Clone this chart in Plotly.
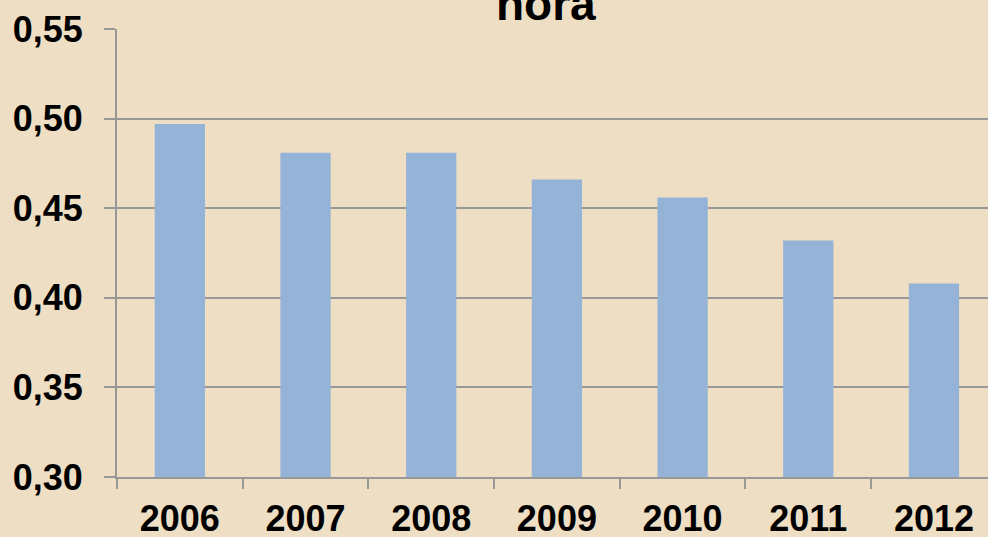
import plotly.graph_objects as go

years = ["2006", "2007", "2008", "2009", "2010", "2011", "2012"]
values = [0.497, 0.481, 0.481, 0.466, 0.456, 0.432, 0.408]
y_ticks = [0.30, 0.35, 0.40, 0.45, 0.50, 0.55]
y_tick_labels = ["0,30", "0,35", "0,40", "0,45", "0,50", "0,55"]
title_text = "hora"

bg = "#EEDEC4"
grid = "#989898"
font_family = "Liberation Sans, Arial, sans-serif"

fig = go.Figure()
fig.add_trace(go.Bar(x=years, y=values, marker=dict(color="#95B3D7", line=dict(width=0)),
                     width=0.4))

fig.update_layout(
    width=988, height=537,
    paper_bgcolor=bg, plot_bgcolor=bg,
    margin=dict(l=117, r=0, t=29, b=60, autoexpand=False),
    showlegend=False,
    font=dict(family=font_family, color="#000000"),
    annotations=[dict(text="<b>" + title_text + "</b>", x=0.493, xref="paper",
                      y=0.993, yref="paper", xanchor="center", yanchor="bottom",
                      showarrow=False, font=dict(size=46, family=font_family))],
)
fig.update_xaxes(
    type="category", range=[-0.5, 6.43], automargin=False,
    showline=True, linecolor=grid, linewidth=2,
    ticks="outside", tickson="boundaries", ticklen=10, tickwidth=2, tickcolor=grid,
    showgrid=False,
    tickfont=dict(size=36, family=font_family),
    tickprefix="<b>", ticksuffix="</b>",
    ticklabelstandoff=9,
)
fig.update_yaxes(
    range=[0.30, 0.55], automargin=False,
    tickvals=y_ticks, ticktext=["<b>" + t + "</b>" for t in y_tick_labels],
    showline=True, linecolor=grid, linewidth=2,
    ticks="outside", ticklen=11, tickwidth=2, tickcolor=grid,
    showgrid=True, gridcolor=grid, gridwidth=2,
    zeroline=False,
    tickfont=dict(size=36, family=font_family),
    ticklabelstandoff=14,
)

fig.write_html("out.html", config={"displayModeBar": False},
               post_script="document.body.style.margin='0';document.body.style.overflow='hidden';")
